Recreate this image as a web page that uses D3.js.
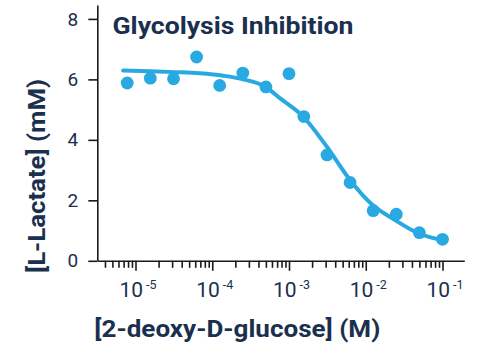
<!DOCTYPE html>
<html>
<head>
<meta charset="utf-8">
<script src="https://cdn.jsdelivr.net/npm/d3@7"></script>
<style>
  html, body { margin: 0; padding: 0; background: #ffffff; }
  svg { display: block; }
</style>
</head>
<body>
<svg id="chart" width="482" height="348"></svg>
<script>
// ---- data ----
const concentrations = [7.8e-6, 1.56e-5, 3.13e-5, 6.25e-5, 1.25e-4, 2.5e-4, 5e-4, 1e-3, 1.56e-3, 3.13e-3, 6.25e-3, 1.25e-2, 2.5e-2, 5e-2, 1e-1];
const lactate = [5.88, 6.04, 6.02, 6.74, 5.80, 6.21, 5.75, 6.19, 4.77, 3.50, 2.59, 1.66, 1.54, 0.93, 0.71];
// fitted curve
const fitConc = [6.9e-6, 1.55e-5, 3.3e-5, 6.9e-5, 1.4e-4, 2.46e-4, 4.97e-4, 7.6e-4, 1.53e-3, 3.1e-3, 6.2e-3, 1.22e-2, 2.4e-2, 4.84e-2, 1.03e-1];
const fitValue = [6.29, 6.27, 6.24, 6.20, 6.12, 6.01, 5.75, 5.38, 4.77, 3.78, 2.68, 1.85, 1.35, 0.91, 0.67];
const majorTicks = [1e-5, 1e-4, 1e-3, 1e-2, 1e-1];
const majorExponents = ["-5", "-4", "-3", "-2", "-1"];
const yTicks = [0, 2, 4, 6, 8];
const title = "Glycolysis Inhibition";
const xLabel = "[2-deoxy-D-glucose] (M)";
const yLabel = "[L-Lactate] (mM)";

// ---- layout ----
const navy = "#1b2f4e";
const blue = "#29a9e1";
const axisColor = "#1a1a1a";
const svg = d3.select("#chart");

const xRef = d3.scaleLog().domain([1e-5, 1e-1]).range([135.5, 442.5]);
const xLeft = 97.3, xRight = 464.3;
const x = d3.scaleLog().domain([xRef.invert(xLeft), xRef.invert(xRight)]).range([xLeft, xRight]);
const y = d3.scaleLinear().domain([0, 8.46]).range([260.8, 5]);

// minor ticks: 2..9 x 10^n inside the domain
const minorTicks = [];
for (let e = -6; e <= -1; e++) {
  for (let k = 2; k <= 9; k++) {
    const v = k * Math.pow(10, e);
    if (v >= x.domain()[0] && v <= x.domain()[1]) minorTicks.push(v);
  }
}

// x axis: minor ticks
svg.append("g")
  .attr("transform", `translate(0,${y(0)})`)
  .call(d3.axisBottom(x).tickValues(minorTicks).tickSize(7).tickSizeOuter(0).tickFormat(""))
  .call(g => g.selectAll("path,line").attr("stroke", axisColor).attr("stroke-width", 1.6));

// x axis: major ticks + labels
const xMajor = svg.append("g")
  .attr("transform", `translate(0,${y(0)})`)
  .call(d3.axisBottom(x).tickValues(majorTicks).tickSize(10).tickSizeOuter(0).tickFormat(""));
xMajor.select(".domain").remove();
xMajor.selectAll("line").attr("stroke", axisColor).attr("stroke-width", 1.6);
xMajor.selectAll(".tick").each(function(d, i) {
  const t = d3.select(this).append("text")
    .attr("y", 36)
    .attr("x", 2)
    .attr("text-anchor", "middle")
    .attr("fill", navy)
    .attr("font-family", "Roboto, sans-serif")
    .attr("font-size", 21);
  t.append("tspan").text("10");
  t.append("tspan").attr("dx", 3).attr("dy", -8).attr("font-size", 12.5).text(majorExponents[i]);
});

// y axis
const yAxis = svg.append("g")
  .attr("transform", `translate(${xLeft},0)`)
  .call(d3.axisLeft(y).tickValues(yTicks).tickSize(9).tickSizeOuter(0).tickPadding(10));
yAxis.selectAll("path,line").attr("stroke", axisColor).attr("stroke-width", 1.6);
yAxis.selectAll("text")
  .attr("fill", navy)
  .attr("font-family", "Roboto, sans-serif")
  .attr("font-size", 19);

// fitted curve
const fit = fitConc.map((c, i) => [c, fitValue[i]]);
svg.append("path")
  .datum(fit)
  .attr("fill", "none")
  .attr("stroke", blue)
  .attr("stroke-width", 4)
  .attr("stroke-linecap", "round")
  .attr("d", d3.line().x(d => x(d[0])).y(d => y(d[1])).curve(d3.curveMonotoneX));

// points
svg.append("g").selectAll("circle")
  .data(concentrations.map((c, i) => [c, lactate[i]]))
  .join("circle")
  .attr("cx", d => x(d[0]))
  .attr("cy", d => y(d[1]))
  .attr("r", 6.4)
  .attr("fill", blue);

// title
svg.append("text")
  .attr("x", 112.5)
  .attr("y", 33.5)
  .attr("fill", navy)
  .attr("font-family", "Roboto, sans-serif")
  .attr("font-weight", 700)
  .attr("font-size", 23.5)
  .attr("textLength", 241)
  .attr("lengthAdjust", "spacingAndGlyphs")
  .text(title);

// axis labels
svg.append("text")
  .attr("x", 94.3)
  .attr("y", 337)
  .attr("fill", navy)
  .attr("font-family", "Roboto, sans-serif")
  .attr("font-weight", 700)
  .attr("font-size", 24)
  .attr("textLength", 286)
  .attr("lengthAdjust", "spacingAndGlyphs")
  .text(xLabel);

svg.append("text")
  .attr("transform", "translate(45,273) rotate(-90)")
  .attr("fill", navy)
  .attr("font-family", "Roboto, sans-serif")
  .attr("font-weight", 700)
  .attr("font-size", 24)
  .attr("textLength", 194)
  .attr("lengthAdjust", "spacingAndGlyphs")
  .text(yLabel);
</script>
</body>
</html>
